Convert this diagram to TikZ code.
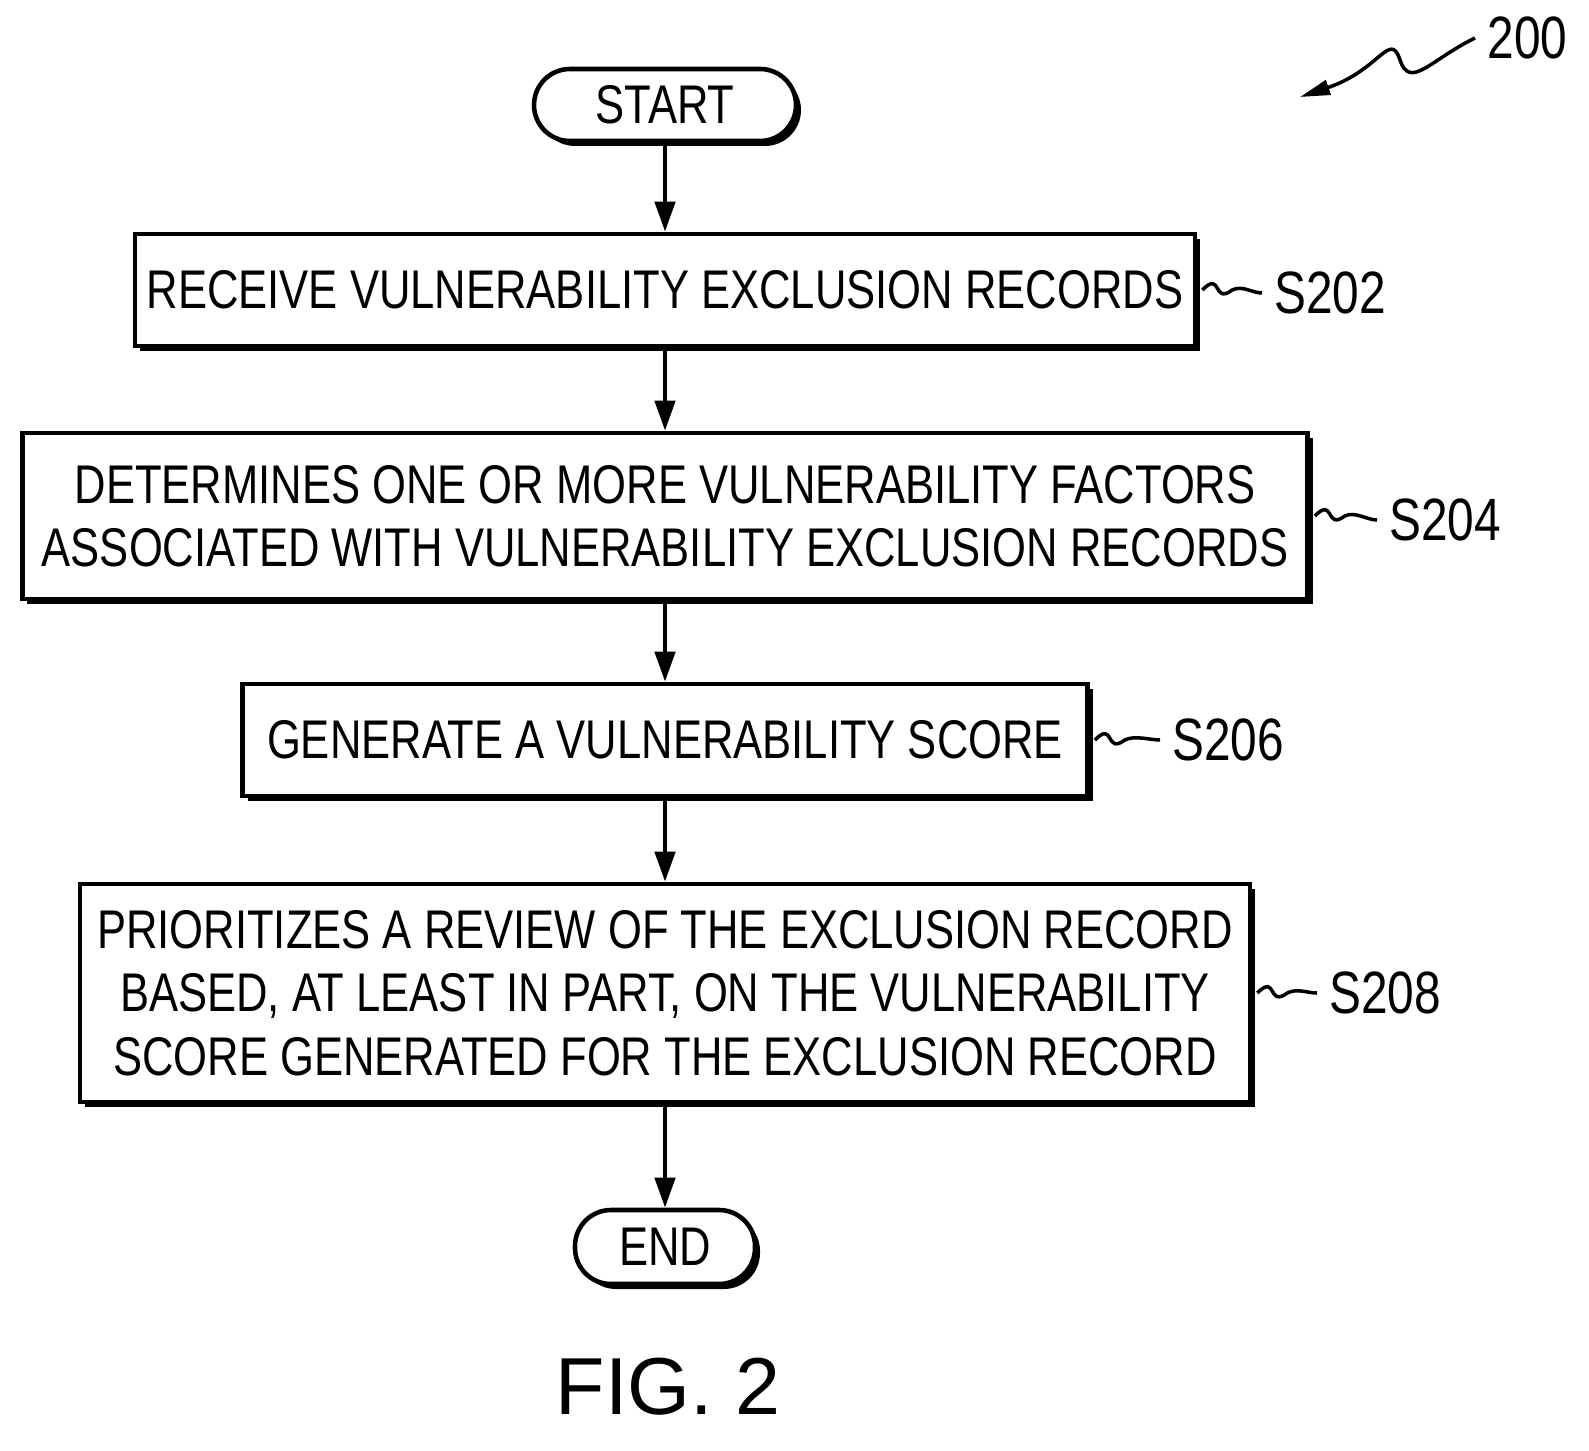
\documentclass[tikz,border=0pt]{standalone}
\usepackage{fontspec}
\setmainfont{Liberation Sans}[FakeStretch=0.8]
\newfontfamily\figfont{Liberation Sans}
\usetikzlibrary{arrows.meta,shadows}

\tikzset{
  flowbox/.style={draw, line width=1.3pt, fill=white, align=center, font=\fontsize{15.5}{18}\selectfont,
    general shadow={shadow xshift=0.05cm, shadow yshift=-0.05cm, fill=black}},
  term/.style={flowbox, rounded corners=0.36cm},
  flow/.style={line width=1.3pt, -{Triangle[length=0.3cm,width=0.2cm]}},
  tag/.style={font=\fontsize{17}{19}\selectfont, anchor=west},
  wave/.style={line width=1pt}
}

\begin{document}
\begin{tikzpicture}
  \useasboundingbox (0,0) rectangle (15.89,-14.5);
  % terminals and steps
  \node[term, minimum width=2.62cm, minimum height=0.72cm] (start) at (6.65,-1.05) {START};
  \node[flowbox, minimum width=10.45cm, minimum height=1.12cm] (s202) at (6.65,-2.9) {RECEIVE VULNERABILITY EXCLUSION RECORDS};
  \node[flowbox, minimum width=12.85cm, minimum height=1.66cm] (s204) at (6.65,-5.16) {DETERMINES ONE OR MORE VULNERABILITY FACTORS\\ASSOCIATED WITH VULNERABILITY EXCLUSION RECORDS};
  \node[flowbox, minimum width=8.45cm, minimum height=1.12cm] (s206) at (6.65,-7.4) {GENERATE A VULNERABILITY SCORE};
  \node[flowbox, minimum width=11.7cm, minimum height=2.18cm] (s208) at (6.65,-9.93) {PRIORITIZES A REVIEW OF THE EXCLUSION RECORD\\BASED, AT LEAST IN PART, ON THE VULNERABILITY\\SCORE GENERATED FOR THE EXCLUSION RECORD};
  \node[term, minimum width=1.8cm, minimum height=0.74cm] (end) at (6.65,-12.47) {END};

  % arrows
  \draw[flow] (start) -- (s202);
  \draw[flow] (s202) -- (s204);
  \draw[flow] (s204) -- (s206);
  \draw[flow] (s206) -- (s208);
  \draw[flow] (s208) -- (end);

  % step labels
  \node[tag] (t202) at (12.62,-2.93) {S202};
  \node[tag] (t204) at (13.77,-5.2) {S204};
  \node[tag] (t206) at (11.6,-7.4) {S206};
  \node[tag] (t208) at (13.17,-9.93) {S208};
  \foreach \s in {202,204,206,208} {
    \draw[wave] ([xshift=0.05cm]s\s.east) .. controls +(0.2,0.2) and +(-0.2,-0.15) .. ++(0.3,0)
      .. controls +(0.1,0.05) and +(-0.1,0) .. (t\s.west);
  }

  % figure number
  \node[tag] (ref) at (14.75,-0.38) {200};
  \coordinate (refend) at (13.0,-0.97);
  \draw[wave, -{Triangle[length=0.3cm,width=0.15cm]}] (ref.west) .. controls (14.3,-0.6) and (14.1,-0.9) .. (14.0,-0.6)
    .. controls (13.9,-0.3) and (13.8,-0.7) .. (refend);
  \node[font=\figfont\fontsize{23}{26}\selectfont] (fig) at (6.68,-13.87) {FIG. 2};
\end{tikzpicture}
\end{document}
